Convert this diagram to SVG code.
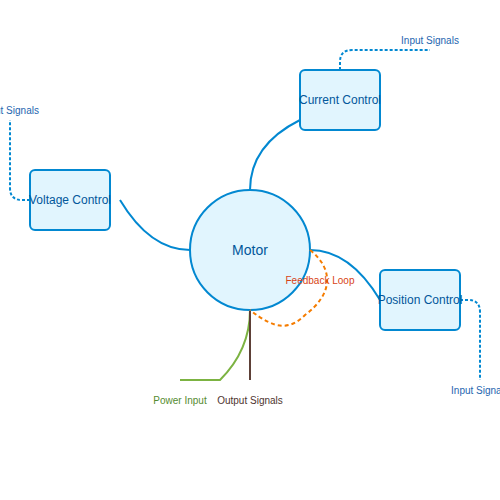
<svg xmlns="http://www.w3.org/2000/svg" width="500" height="500" viewBox="0 0 500 500">
<style>
.node{fill:#e1f5fe;stroke:#0288d1;stroke-width:2}
.nt{font-family:"Liberation Sans",Arial,sans-serif;font-size:12px;fill:#01579b;text-anchor:middle;dominant-baseline:central}
.mt{font-size:14px}
.lbl{font-family:"Liberation Sans",Arial,sans-serif;font-size:10px;text-anchor:middle;dominant-baseline:central}
.in{fill:#1e66b0}
.conn{fill:none;stroke:#0288d1;stroke-width:2}
.inp{fill:none;stroke:#0288d1;stroke-width:2;stroke-dasharray:3,2}
.fb{fill:none;stroke:#f57c00;stroke-width:2;stroke-dasharray:4,3}
</style>
<rect width="500" height="500" fill="#ffffff"/>
<g id="connectors">
<path class="conn" d="M250,190 Q250,145 300,120"/>
<path class="conn" d="M120,200 Q150,250 190,250"/>
<path class="conn" d="M310,250 Q350,250 380,300"/>
<path fill="none" stroke="#7cb342" stroke-width="2" d="M250,310 Q250,350 220,380 L180,380"/>
<path fill="none" stroke="#5d4037" stroke-width="2" d="M250,310 L250,380"/>
<path class="inp" d="M340,70 L340,62 Q340,50 352,50 L430,50"/>
<path class="inp" d="M30,200 L22,200 Q10,200 10,188 L10,120"/>
<path class="inp" d="M460,300 L468,300 Q480,300 480,312 L480,380"/>
</g>
<g id="motor">
<circle class="node" cx="250" cy="250" r="60"/>
<text class="nt mt" x="250" y="250">Motor</text>
</g>
<g id="current-control">
<rect class="node" x="300" y="70" width="80" height="60" rx="5"/>
<text class="nt" x="340" y="100">Current Control</text>
</g>
<g id="voltage-control">
<rect class="node" x="30" y="170" width="80" height="60" rx="5"/>
<text class="nt" x="70" y="200">Voltage Control</text>
</g>
<g id="position-control">
<rect class="node" x="380" y="270" width="80" height="60" rx="5"/>
<text class="nt" x="420" y="300">Position Control</text>
</g>
<g id="feedback">
<path class="fb" d="M310,250 C335,270 332,295 305,315 C290,330 275,330 250,310"/>
</g>
<g id="labels">
<text class="lbl" x="320" y="280" fill="#d84315">Feedback Loop</text>
<text class="lbl" x="180" y="400" fill="#558b2f">Power Input</text>
<text class="lbl" x="250" y="400" fill="#4e342e">Output Signals</text>
<text class="lbl in" x="430" y="40">Input Signals</text>
<text class="lbl in" x="10" y="110">Input Signals</text>
<text class="lbl in" x="480" y="390">Input Signals</text>
</g>
</svg>
